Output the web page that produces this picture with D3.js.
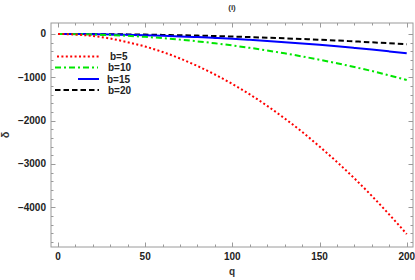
<!DOCTYPE html>
<html><head><meta charset="utf-8">
<script src="https://cdn.jsdelivr.net/npm/d3@7"></script>
<style>body{margin:0;background:#fff}svg{display:block}text{font-family:"Liberation Sans",Arial,sans-serif}</style>
</head><body>
<script>
const qs = [0,10,20,30,40,50,60,70,80,90,100,110,120,130,140,150,160,170,180,190,200];
const b5  = [0,-12,-47,-105,-190,-290,-415,-565,-740,-935,-1155,-1395,-1660,-1950,-2260,-2600,-2955,-3335,-3740,-4170,-4620];
const b10 = [0,-3,-11,-24,-42,-66,-95,-130,-170,-215,-265,-320,-380,-447,-518,-595,-676,-763,-855,-955,-1062];
const b15 = [0,-1,-5,-10,-18,-28,-40,-55,-72,-91,-112,-135,-160,-188,-218,-250,-284,-321,-360,-402,-446];
const b20 = [0,-1,-2,-5,-9,-14,-21,-29,-37,-47,-59,-71,-85,-100,-116,-133,-151,-171,-192,-214,-238];
const series = [
  {name:"b=5", vals:b5, color:"#ff0000", dash:"2,2.4"},
  {name:"b=10", vals:b10, color:"#00e600", dash:"6,3,2,3"},
  {name:"b=15", vals:b15, color:"#0000ff", dash:null},
  {name:"b=20", vals:b20, color:"#000000", dash:"5.5,3"}
];
const xMajor = [0,50,100,150,200];
const yMajor = [0,-1000,-2000,-3000,-4000];

const W=415,H=280;
const L=51,R=413,T=23,B=247;
const x = d3.scaleLinear().domain([-4,203.6]).range([L,R]);
const y = d3.scaleLinear().domain([254,-4919]).range([T,B]);
const svg = d3.select("body").append("svg").attr("width",W).attr("height",H);
const frameColor="#9a9a9a";

svg.append("rect").attr("x",L).attr("y",T).attr("width",R-L).attr("height",B-T)
  .attr("fill","none").attr("stroke",frameColor).attr("stroke-width",1);

const xMinor = d3.range(0,201,10);
const yMinor = d3.range(0,-4801,-200);
const tk = svg.append("g").attr("stroke",frameColor).attr("stroke-width",1);
xMinor.forEach(v=>{
  const len = xMajor.includes(v)?4.5:2.5;
  const px = Math.round(x(v))+0.5;
  tk.append("line").attr("x1",px).attr("x2",px).attr("y1",B).attr("y2",B-len);
  tk.append("line").attr("x1",px).attr("x2",px).attr("y1",T).attr("y2",T+len);
});
yMinor.forEach(v=>{
  const len = yMajor.includes(v)?4.5:2.5;
  const py = Math.round(y(v))+0.5;
  tk.append("line").attr("y1",py).attr("y2",py).attr("x1",L).attr("x2",L+len);
  tk.append("line").attr("y1",py).attr("y2",py).attr("x1",R).attr("x2",R-len);
});

svg.append("g").selectAll("text").data(xMajor).join("text")
  .attr("x",d=>x(d)).attr("y",259.5).attr("text-anchor","middle")
  .attr("font-size",10).attr("font-weight","bold").attr("fill","#222").text(d=>d);
svg.append("g").selectAll("text").data(yMajor).join("text")
  .attr("x",46).attr("y",d=>y(d)+3.5).attr("text-anchor","end")
  .attr("font-size",10).attr("font-weight","bold").attr("fill","#222").text(d=>d===0?"0":"\u2212"+Math.abs(d));

const line = d3.line().x((d,i)=>x(qs[i])).y(d=>y(d)).curve(d3.curveMonotoneX);
svg.append("clipPath").attr("id","c").append("rect").attr("x",L).attr("y",T).attr("width",R-L).attr("height",B-T);
const g = svg.append("g").attr("clip-path","url(#c)");
[...series].reverse().forEach(s=>{
  g.append("path").attr("d",line(s.vals)).attr("fill","none").attr("stroke",s.color)
   .attr("stroke-width",2).attr("stroke-dasharray",s.dash);
});

const leg = [
  {x1:57,x2:100,y:56.5,tx:110},
  {x1:55,x2:98,y:67.5,tx:108},
  {x1:78,x2:99,y:79,tx:107},
  {x1:55,x2:99,y:90,tx:108}
];
series.forEach((s,i)=>{
  const p=leg[i];
  svg.append("line").attr("x1",p.x1).attr("x2",p.x2).attr("y1",p.y).attr("y2",p.y)
    .attr("stroke",s.color).attr("stroke-width",2).attr("stroke-dasharray",s.dash);
  svg.append("text").attr("x",p.tx).attr("y",p.y+3.5).attr("font-size",10).attr("font-weight","bold")
    .attr("fill","#222").text(s.name);
});

svg.append("text").attr("x",232).attr("y",10).attr("text-anchor","middle").attr("font-size",8)
  .attr("font-weight","bold").attr("fill","#333").text("(i)");
svg.append("text").attr("x",232).attr("y",275).attr("text-anchor","middle").attr("font-size",10)
  .attr("font-weight","bold").attr("fill","#333").text("q");
svg.append("text").attr("transform","translate(9,135) rotate(-90)").attr("text-anchor","middle")
  .attr("font-size",11).attr("font-weight","bold").attr("fill","#333").text("δ");
</script>
</body></html>
